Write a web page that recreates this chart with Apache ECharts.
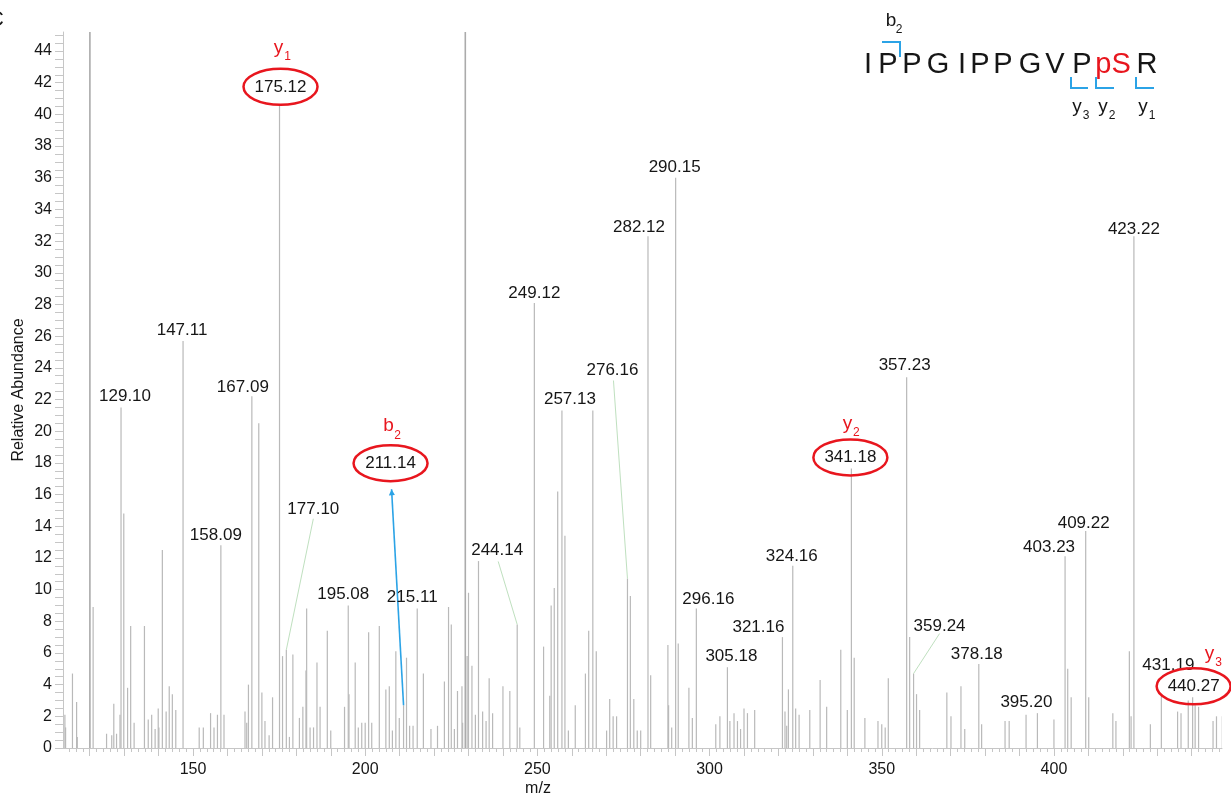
<!DOCTYPE html>
<html><head><meta charset="utf-8">
<script src="https://cdn.jsdelivr.net/npm/echarts@6/dist/echarts.min.js"></script>
<style>html,body{margin:0;padding:0;background:#fff}#c{width:1231px;height:800px}</style>
</head><body><div id="c"></div>
<script>
// ---------- data ----------
const peakMz = [
 112.8,113.0,115.0,116.2,116.4,120.06,121.0,124.9,126.4,127.0,
 127.8,128.8,129.10,129.9,131.0,131.9,132.9,135.9,137.0,138.0,
 139.0,139.9,140.1,141.1,142.2,143.1,144.0,145.0,147.11,151.8,
 153.0,155.1,156.1,157.1,158.09,159.0,165.1,165.6,166.1,167.09,
 169.1,170.0,170.9,172.1,173.1,175.12,176.0,177.10,178.0,179.0,
 180.9,181.9,182.8,183.0,184.0,185.0,186.0,186.9,189.0,190.0,
 194.0,195.08,195.3,197.1,198.0,199.0,200.0,201.0,201.9,204.1,
 206.0,207.0,207.9,208.9,209.9,211.14,212.0,212.9,213.9,215.11,
 216.9,219.1,221.0,223.0,224.2,225.0,225.9,226.8,228.1,228.3,
 229.07,229.6,230.0,231.0,232.0,232.9,234.1,235.1,236.0,237.0,
 240.0,242.0,244.14,244.9,249.12,251.8,253.6,254.0,254.9,255.9,
 257.13,258.0,259.0,261.0,263.95,264.9,266.1,267.1,270.1,271.0,
 272.0,273.0,276.16,277.0,278.0,279.0,280.0,282.12,282.9,287.9,
 288.1,289.0,290.15,290.9,294.0,295.0,296.16,301.8,303.0,305.18,
 305.9,307.1,308.1,309.0,310.0,311.0,313.1,321.16,321.9,322.4,
 322.9,324.16,325.0,326.0,329.1,332.1,334.0,338.1,340.0,341.18,
 342.0,345.1,348.9,350.0,351.0,351.9,357.23,358.1,359.24,360.1,
 361.0,368.9,370.1,373.0,374.1,378.18,379.0,385.8,387.0,391.9,
 395.20,400.0,403.23,404.0,405.0,409.22,410.1,417.1,418.0,421.9,
 422.4,423.22,428.0,431.19,435.9,436.9,439.0,440.27,441.0,442.0,
 446.2,447.2,448.9
];
const peakIntensity = [
 2.1,1.3,4.7,2.9,0.7,100,8.9,0.9,0.8,2.8,
 0.9,2.1,21.5,14.8,3.8,7.7,1.6,7.7,1.8,2.1,
 1.2,2.5,1.3,12.5,2.3,3.9,3.4,2.4,25.7,1.3,
 1.3,2.2,1.3,2.1,12.8,2.1,2.3,1.6,4.0,22.2,
 20.5,3.5,1.7,0.8,3.2,40.6,5.8,6.2,0.7,5.9,
 1.9,2.6,4.9,8.8,1.3,1.3,5.4,2.6,7.4,1.1,
 2.6,9.0,3.4,5.4,1.3,1.6,1.6,7.3,1.6,7.7,
 3.7,3.9,1.1,6.1,1.9,2.7,5.7,1.4,1.4,8.8,
 4.7,1.2,1.4,4.2,8.9,7.8,1.2,3.6,3.9,1.6,
 100,5.8,9.8,5.2,2.1,11.8,2.3,1.7,4.4,2.2,
 3.9,3.6,7.8,1.3,28.1,6.4,3.3,9.0,10.1,16.2,
 21.3,13.4,1.1,2.7,4.7,7.4,21.3,6.1,1.1,3.1,
 2.0,2.0,10.7,9.6,3.1,1.1,1.1,32.3,4.6,6.5,
 2.7,1.3,36.0,6.6,3.8,1.9,8.8,1.5,2.0,5.1,
 1.7,2.2,1.7,1.2,2.5,2.2,2.4,7.0,2.3,1.4,
 3.7,11.5,2.5,2.1,2.4,4.3,2.6,6.2,2.4,17.65,
 5.7,1.9,1.7,1.5,1.3,4.4,23.4,7.0,4.7,3.4,
 2.4,3.5,2.0,3.9,1.2,5.3,1.5,1.7,1.7,2.1,
 2.2,1.8,12.1,5.0,3.2,13.7,3.2,2.2,1.7,6.1,
 2.0,32.3,1.5,3.3,2.3,2.2,3.0,3.2,2.7,2.6,
 1.7,2.0,2.0
];
const labeledMz = [129.10,147.11,158.09,167.09,175.12,177.10,195.08,211.14,215.11,244.14,
 249.12,257.13,276.16,282.12,290.15,296.16,305.18,321.16,324.16,341.18,
 357.23,359.24,378.18,395.20,403.23,409.22,423.22,431.19,440.27];
const ionMz = [175.12,211.14,341.18,440.27];
const ionLetter = ['y','b','y','y'];
const ionNumber = ['1','2','2','3'];
const sequence = ['I','P','P','G','I','P','P','G','V','P','pS','R'];
const xLabelValues = [150,200,250,300,350,400];
const xTickValues = [120,130,140,150,160,170,180,190,200,210,220,230,240,250,260,270,280,290,300,310,320,330,340,350,360,370,380,390,400,410,420,430,440];
const yLabelValues = [0,2,4,6,8,10,12,14,16,18,20,22,24,26,28,30,32,34,36,38,40,42,44];
const xTitle = 'm/z';
const yTitle = 'Relative Abundance';

// ---------- layout / style ----------
const FONT = "'Liberation Sans', Arial, Helvetica, sans-serif";
const X_MIN = 112.25, X_MAX = 448.8, Y_MAX = 45.2;
const RED = '#e8161e', BLUE = '#2ba3e6', TEXT = '#161616', AXIS = '#c6c6c6';
const labelOffset = {
 '129.10':[4,-11],'147.11':[-1,-11],'158.09':[-5,-10],'167.09':[-9,-9],'175.12':[1,-18],
 '177.10':[27,-140],'195.08':[-5,-11],'211.14':[-13,-242],'215.11':[-5,-11],'244.14':[-20,-74],
 '249.12':[0,-10],'257.13':[8,-11],'276.16':[-15,-208],'282.12':[-9,-9],'290.15':[-1,-10],
 '296.16':[12,-9],'305.18':[4,-11],'321.16':[-24,-10],'324.16':[-1,-10],'341.18':[-1,-11],
 '357.23':[-2,-12],'359.24':[26,-47],'378.18':[-2,-10],'395.20':[-11,-11],'403.23':[-16,-9],
 '409.22':[-2,-8],'423.22':[0,-7],'431.19':[7,-30],'440.27':[1,-11]
};
const leaderStart = {'177.10':[27,-131],'244.14':[-19,-63],'276.16':[-14,-198],'359.24':[26,-40]};
const ionOffset = {'175.12':[-2,-39],'211.14':[-2,-37],'341.18':[-3,-34],'440.27':[16,-33]};
const seqX = [868,888,912,938,962,980,1003,1030,1055,1082,1113,1147];

function intensityOf(m){ return peakIntensity[peakMz.indexOf(m)]; }
const xMinorTicks = []; for (let v = 114; v <= 448; v += 2) xMinorTicks.push(v);
const yMinorTicks = []; for (let v = 0; v <= 45; v += 0.5) yMinorTicks.push(v);

function txt(s, x, y, size, color, align){
  return {type:'text', style:{text:s, x:x, y:y, font: size+'px '+FONT, fill:color, align:align||'center', verticalAlign:'middle'}};
}

const chart = echarts.init(document.getElementById('c'), null, {renderer:'canvas'});

const graphicEls = [];
graphicEls.push({type:'text', style:{text:'C', x:4, y:20, font:'22px '+FONT, fill:TEXT, align:'right', verticalAlign:'middle'}});
graphicEls.push({type:'text', rotation:Math.PI/2, x:19, y:390, style:{text:yTitle, x:0, y:0, font:'16px '+FONT, fill:TEXT, align:'center', verticalAlign:'middle'}});
graphicEls.push({type:'text', style:{text:xTitle, x:538, y:789, font:'16px '+FONT, fill:TEXT, align:'center', verticalAlign:'middle'}});
sequence.forEach((s,i)=>{
  graphicEls.push({type:'text', style:{text:s, x:seqX[i], y:65, font:'29px '+FONT, fill: s==='pS'?RED:TEXT, align:'center', verticalAlign:'middle'}});
});
graphicEls.push(txt('b', 891, 21, 19, TEXT));
graphicEls.push(txt('2', 899, 30, 12, TEXT));
graphicEls.push({type:'polyline', shape:{points:[[882,42],[900,42],[900,57]]}, style:{stroke:BLUE, lineWidth:2, fill:null}});
[[1071,1088],[1096,1114],[1136,1154]].forEach(p=>{
  graphicEls.push({type:'polyline', shape:{points:[[p[0],77],[p[0],88],[p[1],88]]}, style:{stroke:BLUE, lineWidth:2, fill:null}});
});
[[1077,'3'],[1103,'2'],[1143,'1']].forEach(p=>{
  graphicEls.push(txt('y', p[0], 107, 19, TEXT));
  graphicEls.push(txt(p[1], p[0]+9, 116, 12, TEXT));
});

const option = {
  animation:false,
  backgroundColor:'#fff',
  grid:{left:63, right:9, top:32, bottom:52, containLabel:false, outerBoundsMode:'none'},
  xAxis:[{
    type:'value', min:X_MIN, max:X_MAX, position:'bottom',
    axisLine:{show:true, lineStyle:{color:AXIS, width:1}},
    axisTick:{show:true, customValues:xTickValues, length:8, lineStyle:{color:AXIS}},
    axisLabel:{show:true, customValues:xLabelValues, fontSize:16, color:TEXT, fontFamily:FONT, margin:14},
    splitLine:{show:false}
  },{
    type:'value', min:X_MIN, max:X_MAX, position:'bottom', offset:0,
    axisLine:{show:false},
    axisTick:{show:true, customValues:xMinorTicks, length:4, lineStyle:{color:AXIS}},
    axisLabel:{show:false}, splitLine:{show:false}
  }],
  yAxis:{
    type:'value', min:0, max:Y_MAX,
    axisLine:{show:true, lineStyle:{color:AXIS, width:1}},
    axisTick:{show:true, customValues:yMinorTicks, length:8, lineStyle:{color:AXIS}},
    axisLabel:{show:true, customValues:yLabelValues, fontSize:16, color:TEXT, fontFamily:FONT, margin:11},
    splitLine:{show:false}
  },
  graphic:{elements:graphicEls},
  series:[{
    type:'custom', coordinateSystem:'cartesian2d', clip:true, silent:true,
    data: peakMz.map((m,i)=>[m, peakIntensity[i]]),
    encode:{x:0, y:1},
    renderItem:(params, api)=>{
      const x = api.value(0), y = api.value(1);
      const p0 = api.coord([x,0]), p1 = api.coord([x, Math.min(y, Y_MAX)]);
      return {type:'line', shape:{x1:p0[0], y1:p0[1], x2:p1[0], y2:p1[1]},
        style:{stroke: y>Y_MAX ? '#ababab' : '#b9b9b9', lineWidth: y>Y_MAX ? 1.6 : 1.2}};
    }
  },{
    type:'custom', coordinateSystem:'cartesian2d', silent:true, z:5,
    data: labeledMz.map(m=>[m, intensityOf(m)]),
    encode:{x:0, y:1},
    renderItem:(params, api)=>{
      const m = labeledMz[params.dataIndex];
      const key = m.toFixed(2);
      const p = api.coord([api.value(0), api.value(1)]);
      const off = labelOffset[key] || [0,-11];
      const lx = p[0]+off[0], ly = p[1]+off[1];
      const children = [];
      if (leaderStart[key]) {
        const s = leaderStart[key];
        children.push({type:'line', shape:{x1:p[0]+s[0], y1:p[1]+s[1], x2:p[0], y2:p[1]}, style:{stroke:'#bfe0bf', lineWidth:1}});
      }
      children.push(txt(key, lx, ly, 17, TEXT));
      const ii = ionMz.indexOf(m);
      if (ii >= 0) {
        children.push({type:'ellipse', shape:{cx:lx, cy:ly, rx:37, ry:18}, style:{fill:null, stroke:RED, lineWidth:2.5}});
        const io = ionOffset[key];
        children.push(txt(ionLetter[ii], lx+io[0], ly+io[1], 19, RED));
        children.push(txt(ionNumber[ii], lx+io[0]+9, ly+io[1]+9, 12, RED));
        if (ionLetter[ii] === 'b') {
          const ax = lx+1, ay = ly+26;
          children.push({type:'line', shape:{x1:p[0], y1:p[1], x2:ax, y2:ay}, style:{stroke:BLUE, lineWidth:1.6}});
          const ang = Math.atan2(p[1]-ay, p[0]-ax);
          const hl = 6, hw = 3;
          const bx = ax + Math.cos(ang)*hl, by = ay + Math.sin(ang)*hl;
          children.push({type:'polygon', shape:{points:[[ax,ay],[bx - Math.sin(ang)*hw, by + Math.cos(ang)*hw],[bx + Math.sin(ang)*hw, by - Math.cos(ang)*hw]]}, style:{fill:BLUE}});
        }
      }
      return {type:'group', children};
    }
  }]
};
chart.setOption(option);
</script>
</body></html>
